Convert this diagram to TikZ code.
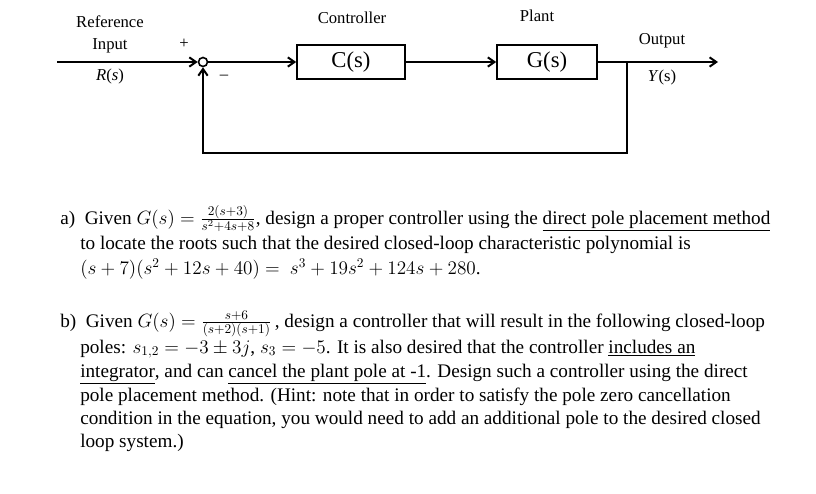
\documentclass[tikz,border=0pt]{standalone}
\usepackage{fontspec}
\setmainfont{Liberation Serif}
\usetikzlibrary{arrows.meta}
\begin{document}
\begin{tikzpicture}[x=0.75pt,y=-0.75pt,
  blk/.style={draw,line width=1.2pt,minimum height=34*0.75pt,inner sep=0pt,font=\fontsize{17}{19}\selectfont},
  lbl/.style={font=\fontsize{12.5}{14}\selectfont},
  sig/.style={line width=1.5pt,-{Straight Barb[length=5pt,width=7pt]}},
  txt/.style={anchor=base west,inner sep=0pt,font=\fontsize{14.4}{16}\selectfont}]
\useasboundingbox (0,0) rectangle (816,493);
% block diagram
\coordinate (in) at (57,62);
\node[draw,circle,line width=1.2pt,minimum size=9*0.75pt,inner sep=0pt] (sum) at (203,62) {};
\node[blk,minimum width=108*0.75pt] (C) at (351,62) {C(s)};
\node[blk,minimum width=100*0.75pt] (G) at (547,62) {G(s)};
\coordinate (br) at (627,62);
\coordinate (out) at (718,62);
\coordinate (fb1) at (627,153);
\coordinate (fb2) at (203,153);
\draw[sig] (in) -- (sum.west);
\draw[sig] (sum.east) -- (C.west);
\draw[sig] (C.east) -- (G.west);
\draw[sig] (G.east) -- (out);
\draw[sig] (br) -- (fb1) -- (fb2) -- (sum.south);
\node[lbl] (t1) at (110,22) {Reference};
\node[lbl] (t2) at (110,46) {Input};
\node[lbl] (t3) at (110,76) {\textit{R}(\textit{s})};
\node[lbl] (t4) at (184,44) {+};
\node[lbl] (t5) at (224,77) {--};
\node[lbl] (t6) at (352,18) {Controller};
\node[lbl] (t7) at (537,16) {Plant};
\node[lbl] (t8) at (662,41) {Output};
\node[lbl] (t9) at (662,77) {\textit{Y}(s)};
% text
\node[txt] (a1) at (60,224) {a)\ \ Given $G(s)=\frac{2(s+3)}{s^2+4s+8}$, design a proper controller using the \underline{direct pole placement method}};
\node[txt] (a2) at (80,249) {to locate the roots such that the desired closed-loop characteristic polynomial is};
\node[txt] (a3) at (80,274) {$(s+7)(s^2+12s+40)=\ s^3+19s^2+124s+280$.};
\node[txt] (b1) at (60,327) {b)\ \ Given $G(s)=\frac{s+6}{(s+2)(s+1)}$\,, design a controller that will result in the following closed-loop};
\node[txt] (b2) at (80,353) {poles: $s_{1,2}=-3\pm3j$, $s_3=-5$. It is also desired that the controller \underline{includes an}};
\node[txt] (b3) at (80,377) {\underline{integrator}, and can \underline{cancel the plant pole at -1}. Design such a controller using the direct};
\node[txt] (b4) at (80,401) {pole placement method. (Hint: note that in order to satisfy the pole zero cancellation};
\node[txt] (b5) at (80,424) {condition in the equation, you would need to add an additional pole to the desired closed};
\node[txt] (b6) at (80,447) {loop system.)};
\end{tikzpicture}
\end{document}
